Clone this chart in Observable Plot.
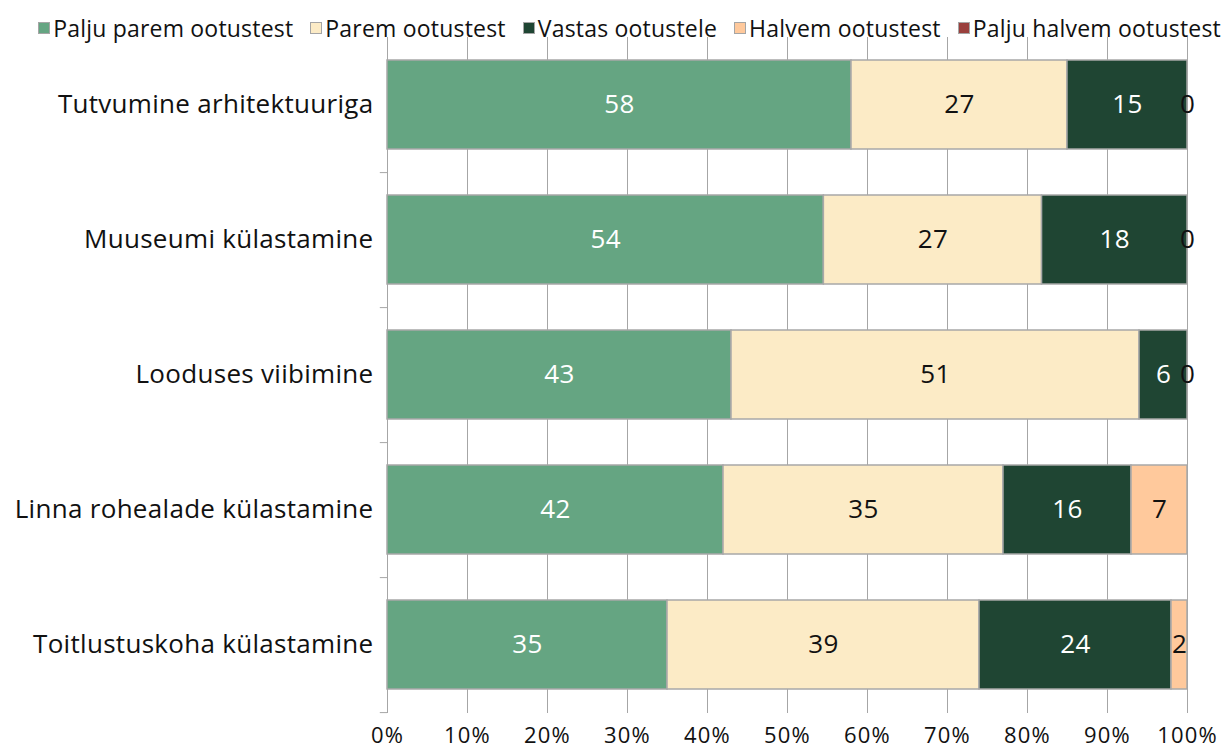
<!DOCTYPE html>
<html>
<head>
<meta charset="utf-8">
<script src="https://cdn.jsdelivr.net/npm/d3@7"></script>
<script src="https://cdn.jsdelivr.net/npm/@observablehq/plot@0.6"></script>
<style>
  html, body { margin: 0; padding: 0; background: #fff; }
  body { width: 1224px; height: 747px; overflow: hidden; font-family: "Open Sans", sans-serif; color: #111; }
  #legend { height: 37px; display: flex; align-items: center; justify-content: flex-end; padding-right: 3px; gap: 17px; font-size: 23px; letter-spacing: 0.2px; box-sizing: border-box; padding-top: 18px; }
  .item { display: flex; align-items: center; gap: 3px; white-space: nowrap; }
  .sw { width: 12px; height: 12px; border: 1.5px solid #a5a5a5; box-sizing: border-box; }
  #chart text { letter-spacing: 0.3px; }
  #chart g[aria-label="x-axis tick label"] text { letter-spacing: 1.2px; }
</style>
</head>
<body>
<div id="legend"></div>
<div id="chart"></div>
<script>
const categories = ["Tutvumine arhitektuuriga", "Muuseumi külastamine", "Looduses viibimine", "Linna rohealade külastamine", "Toitlustuskoha külastamine"];
const seriesNames = ["Palju parem ootustest", "Parem ootustest", "Vastas ootustele", "Halvem ootustest", "Palju halvem ootustest"];
const seriesColors = ["#65a582", "#fcebc6", "#1f4533", "#ffc99c", "#9a403d"];
const paljuParem = [58, 54, 43, 42, 35];
const parem = [27, 27, 51, 35, 39];
const vastas = [15, 18, 6, 16, 24];
const halvem = [0, 0, 0, 7, 2];
const paljuHalvem = [0, 0, 0, 0, 0];
const xTicks = [0, 10, 20, 30, 40, 50, 60, 70, 80, 90, 100];

const seriesValues = [paljuParem, parem, vastas, halvem, paljuHalvem];
const data = [];
categories.forEach((c, i) => {
  seriesNames.forEach((s, j) => data.push({cat: c, series: s, value: seriesValues[j][i]}));
});
const darkSeries = new Set(["Palju parem ootustest", "Vastas ootustele"]);
const labelData = data.filter(d => d.series !== "Palju halvem ootustest");

// legend
const legend = document.getElementById("legend");
seriesNames.forEach((s, j) => {
  const it = document.createElement("div");
  it.className = "item";
  const sw = document.createElement("div");
  sw.className = "sw";
  sw.style.background = seriesColors[j];
  const t = document.createElement("span");
  t.textContent = s;
  it.appendChild(sw); it.appendChild(t);
  legend.appendChild(it);
});

const stackOpts = {x: "value", y: "cat", z: "series", order: seriesNames, offset: "normalize"};

const chart = Plot.plot({
  width: 1224,
  height: 710,
  marginLeft: 387,
  marginRight: 37,
  marginTop: 0,
  marginBottom: 34,
  style: {fontFamily: "'Open Sans', sans-serif", color: "#111", background: "#fff", overflow: "visible"},
  x: {domain: [0, 1], axis: null},
  y: {domain: categories, paddingInner: 0.34, paddingOuter: 0.17, axis: null},
  color: {domain: seriesNames, range: seriesColors},
  marks: [
    Plot.ruleX(xTicks, {x: d => d / 100, stroke: "#a6a6a6", strokeWidth: 1}),
    Plot.ruleY(categories, {y: d => d, x1: -0.009, x2: 0, dy: 67.6, stroke: "#a6a6a6", strokeWidth: 1}),
    Plot.barX(data, Plot.stackX({...stackOpts, fill: "series", stroke: "#a8a8a8", strokeWidth: 1.5, inset: 0})),
    Plot.text(labelData, Plot.stackX({...stackOpts, text: d => darkSeries.has(d.series) ? String(d.value) : "", fill: "white", fontSize: 26})),
    Plot.text(labelData, Plot.stackX({...stackOpts, text: d => darkSeries.has(d.series) ? "" : String(d.value), fill: "#111", fontSize: 26})),
    Plot.axisY({tickSize: 0, tickPadding: 14, fontSize: 26, label: null}),
    Plot.axisX(xTicks.map(t => t / 100), {tickSize: 0, tickPadding: 14, fontSize: 22, label: null, tickFormat: d => Math.round(d * 100) + "%"})
  ]
});
document.getElementById("chart").appendChild(chart);
</script>
</body>
</html>
